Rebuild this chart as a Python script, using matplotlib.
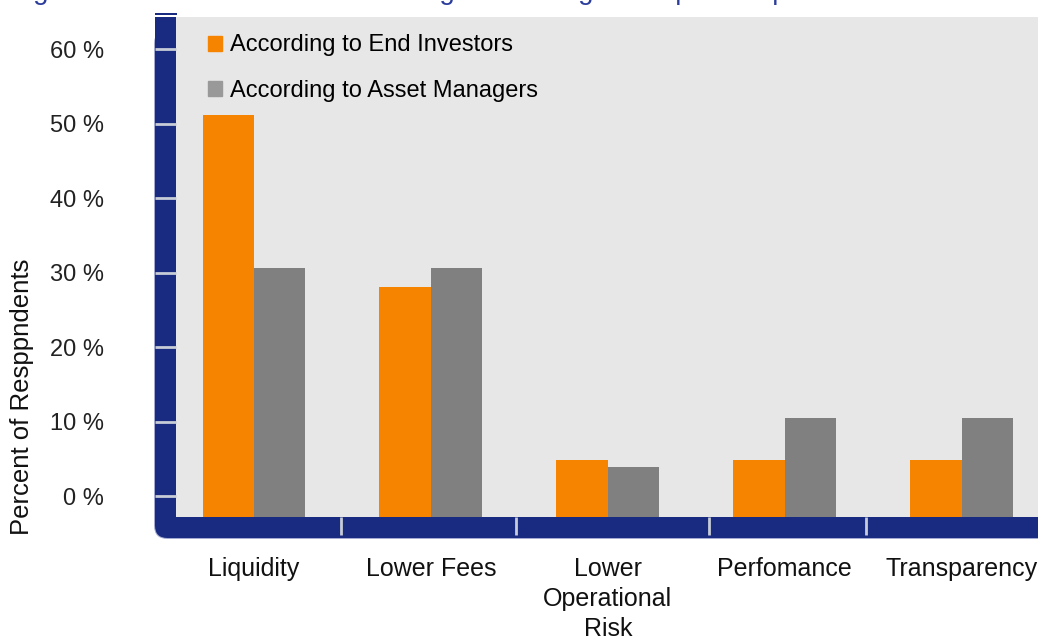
import matplotlib.pyplot as plt
import matplotlib.patches as mpatches
from matplotlib.patches import FancyBboxPatch, Rectangle
import numpy as np

plt.rcParams['font.family'] = ['Liberation Sans', 'DejaVu Sans']

# data
categories = ["Liquidity", "Lower Fees", "Lower\nOperational\nRisk", "Perfomance", "Transparency"]
end_investors = [51.1, 28.0, 4.8, 4.8, 4.8]
asset_managers = [30.6, 30.6, 3.9, 10.5, 10.5]
yticks = [0, 10, 20, 30, 40, 50, 60]
ytick_labels = ["0 %", "10 %", "20 %", "30 %", "40 %", "50 %", "60 %"]
separators = [0.49, 1.48, 2.57, 3.46]

orange = "#f78400"
grey = "#808080"
legend_grey = "#999999"
navy = "#182b80"
tickc = "#c8ccd8"

W, H = 1038, 639
fig = plt.figure(figsize=(W / 100, H / 100), dpi=100)

def fx(px):
    return px / W

def fy(py):
    return 1 - py / H

# light outline under the navy frame (only shows at the bottom / rounded corner)
outline = FancyBboxPatch((fx(154), fy(539)), fx(1100) - fx(154), fy(30) - fy(539),
                         boxstyle="round,pad=0,rounding_size=0.013",
                         transform=fig.transFigure, facecolor="#a3abd3", edgecolor="none",
                         mutation_aspect=W / H, zorder=-3)
fig.patches.append(outline)
# navy frame on the left and bottom, rounded at the lower left corner
frame = FancyBboxPatch((fx(155), fy(538)), fx(1100) - fx(155), fy(17) - fy(538),
                       boxstyle="round,pad=0,rounding_size=0.012",
                       transform=fig.transFigure, facecolor=navy, edgecolor="none",
                       mutation_aspect=W / H, zorder=-2)
fig.patches.append(frame)
fig.patches.append(Rectangle((fx(155), fy(40)), fx(176) - fx(155), fy(17) - fy(40),
                             transform=fig.transFigure, facecolor=navy, edgecolor="none", zorder=-1))
fig.patches.append(Rectangle((fx(155), fy(15)), fx(177) - fx(155), 1.5 / H,
                             transform=fig.transFigure, facecolor=navy, edgecolor="none", zorder=-1))

ax = fig.add_axes([fx(176), fy(517), 1 - fx(176) + 0.01, fy(17) - fy(517)])
ax.set_zorder(1)
ax.set_facecolor("#e7e7e7")

x = np.arange(len(categories))
w = 0.29
ymin, ymax = -2.8, 64.3
ax.bar(x - w / 2, np.array(end_investors) - ymin, w, bottom=ymin, color=orange, zorder=2)
ax.bar(x + w / 2, np.array(asset_managers) - ymin, w, bottom=ymin, color=grey, zorder=2)

ax.set_ylim(ymin, ymax)
ax.set_xlim(-0.44, 4.43 + 0.06)

for s in ax.spines.values():
    s.set_visible(False)

ax.set_yticks(yticks)
ax.set_yticklabels(ytick_labels, fontsize=17, color="#222222")
ax.tick_params(axis="y", direction="out", length=15, width=2, color=tickc, pad=37)

ax.set_xticks(x)
ax.set_xticklabels(categories, fontsize=18, color="#111111", linespacing=1.3)
ax.tick_params(axis="x", which="major", length=0, pad=29)
ax.set_xticks(separators, minor=True)
ax.tick_params(axis="x", which="minor", direction="out", length=13, width=2, color=tickc)

handles = [mpatches.Patch(color=orange, label="According to End Investors"),
           mpatches.Patch(color=legend_grey, label="According to Asset Managers")]
ax.legend(handles=handles, loc="upper left", bbox_to_anchor=(0.037, 0.965), frameon=False,
          fontsize=17, handlelength=0.6, handleheight=0.6, handletextpad=0.3,
          labelspacing=1.0, borderpad=0, borderaxespad=0)

fig.text(fx(22), fy(397), "Percent of Resppndents", rotation=90, fontsize=18.5,
         ha="center", va="center", color="#111111")

# title, cut off by the top edge in the original
fig.text(fx(10), fy(-1), "Figure 11: Main Perceived Advantages of Using ETFs per Respondents",
         fontsize=20, color="#2b3d9c", ha="left", va="baseline")

fig.savefig("out.png", dpi=100)
